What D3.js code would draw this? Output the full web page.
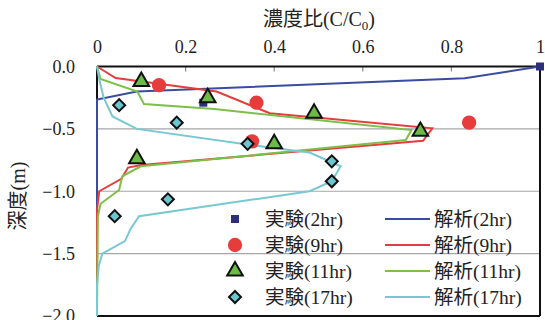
<!DOCTYPE html>
<html>
<head>
<meta charset="utf-8">
<script src="https://cdn.jsdelivr.net/npm/d3@7"></script>
<style>
  html, body { margin: 0; padding: 0; background: #fff; }
  svg text { font-family: "Liberation Serif", "Noto Sans CJK JP", serif; fill: #222; }
</style>
</head>
<body>
<svg id="chart" width="545" height="320"></svg>
<script>
// Axis ticks
const xTicks = [0, 0.2, 0.4, 0.6, 0.8, 1];
const xTickLabels = ["0", "0.2", "0.4", "0.6", "0.8", "1"];
const yTicks = [0, -0.5, -1.0, -1.5, -2.0];
const yTickLabels = ["0.0", "\u22120.5", "\u22121.0", "\u22121.5", "\u22122.0"];

// Measured concentration ratio (experiment)
const exp2hrDepth = [0, -0.29];
const exp2hrValue = [1.0, 0.24];
const exp9hrDepth = [-0.15, -0.29, -0.45, -0.60];
const exp9hrValue = [0.14, 0.36, 0.84, 0.35];
const exp11hrDepth = [-0.12, -0.25, -0.375, -0.52, -0.62, -0.74];
const exp11hrValue = [0.10, 0.25, 0.49, 0.73, 0.40, 0.09];
const exp17hrDepth = [-0.31, -0.45, -0.62, -0.76, -0.92, -1.065, -1.20];
const exp17hrValue = [0.05, 0.18, 0.34, 0.53, 0.53, 0.16, 0.04];

// Simulated profiles (analysis)
const ana2hrDepth = [0, -0.095, -0.2, -0.265, -2.0];
const ana2hrValue = [1.0, 0.83, 0.09, 0, 0];
const ana9hrDepth = [0, -0.092, -0.2, -0.375, -0.495, -0.595, -0.79, -0.81, -0.90, -1.0, -1.15, -2.0];
const ana9hrValue = [0, 0.042, 0.27, 0.39, 0.757, 0.736, 0.10, 0.07, 0.055, 0.005, 0, 0];
const ana11hrDepth = [0, -0.1, -0.2, -0.3, -0.34, -0.51, -0.59, -0.80, -0.88, -0.99, -1.10, -1.2, -2.0];
const ana11hrValue = [0, 0.008, 0.091, 0.106, 0.265, 0.71, 0.697, 0.099, 0.057, 0.05, 0.008, 0.002, 0];
const ana17hrDepth = [0, -0.1, -0.25, -0.4, -0.5, -0.65, -0.69, -0.8, -0.92, -1.0, -1.2, -1.3, -1.4, -1.5, -1.6, -1.75, -2.0];
const ana17hrValue = [0, 0.005, 0.015, 0.035, 0.09, 0.39, 0.48, 0.55, 0.53, 0.48, 0.095, 0.076, 0.063, 0.012, 0.004, 0, 0];

const expLabels = ["実験(2hr)", "実験(9hr)", "実験(11hr)", "実験(17hr)"];
const anaLabels = ["解析(2hr)", "解析(9hr)", "解析(11hr)", "解析(17hr)"];

const zip = (d, v) => d.map((dd, i) => ({ depth: dd, value: v[i] }));

const svg = d3.select("#chart");
const plotLeft = 97, plotRight = 540, plotTop = 66.5, plotBottom = 316;
const x = d3.scaleLinear().domain([0, 1]).range([plotLeft, plotRight]);
const y = d3.scaleLinear().domain([0, -2]).range([plotTop, plotBottom]);

// Horizontal gridlines
svg.append("g").selectAll("line")
  .data(yTicks.filter(t => t !== 0 && t !== -2))
  .join("line")
  .attr("x1", plotLeft).attr("x2", plotRight)
  .attr("y1", d => y(d)).attr("y2", d => y(d))
  .attr("stroke", "#a6a6a6").attr("stroke-width", 1.2);

// Top axis (concentration ratio)
const xAxis = d3.axisTop(x).tickValues(xTicks)
  .tickFormat((d, i) => xTickLabels[i]).tickSize(0).tickPadding(14);
const gx = svg.append("g").attr("transform", `translate(0,${plotTop})`).call(xAxis);
gx.select(".domain").remove();
gx.selectAll("text").attr("font-size", 18).attr("fill", "#222")
  .style("font-family", "'Liberation Serif', serif");
// inner tick marks
svg.append("g").selectAll("line")
  .data(xTicks.filter(t => t > 0 && t < 1))
  .join("line")
  .attr("x1", d => x(d)).attr("x2", d => x(d))
  .attr("y1", plotTop).attr("y2", plotTop + 5)
  .attr("stroke", "#888").attr("stroke-width", 1.2);

// Left axis (depth)
const yAxis = d3.axisLeft(y).tickValues(yTicks)
  .tickFormat((d, i) => yTickLabels[i]).tickSize(0).tickPadding(22);
const gy = svg.append("g").attr("transform", `translate(${plotLeft},0)`).call(yAxis);
gy.select(".domain").remove();
gy.selectAll("text").attr("font-size", 18).attr("fill", "#222")
  .style("font-family", "'Liberation Serif', serif");

// Frame
const frame = svg.append("g").attr("stroke", "#111").attr("stroke-width", 2);
frame.append("line").attr("x1", plotLeft).attr("x2", plotRight).attr("y1", plotTop).attr("y2", plotTop);
frame.append("line").attr("x1", plotRight).attr("x2", plotRight).attr("y1", plotTop).attr("y2", plotBottom);
frame.append("line").attr("x1", plotLeft).attr("x2", plotRight).attr("y1", plotBottom).attr("y2", plotBottom);
frame.append("line").attr("x1", plotLeft).attr("x2", plotLeft).attr("y1", plotTop).attr("y2", plotBottom);

// Axis titles
const title = svg.append("text").attr("x", 319).attr("y", 26)
  .attr("text-anchor", "middle").attr("font-size", 20);
title.append("tspan").text("濃度比(C/C");
title.append("tspan").attr("font-size", 13).attr("dy", 4).text("0");
title.append("tspan").attr("dy", -4).text(")");

svg.append("text")
  .attr("transform", "translate(25,196) rotate(-90)")
  .attr("text-anchor", "middle").attr("font-size", 20)
  .text("深度(m)");

// Analysis lines
const line = d3.line().x(d => x(d.value)).y(d => y(d.depth));
const lineSeries = [
  { data: zip(ana2hrDepth, ana2hrValue), color: "#3a4c9f" },
  { data: zip(ana9hrDepth, ana9hrValue), color: "#e63c3c" },
  { data: zip(ana11hrDepth, ana11hrValue), color: "#7cbf4a" },
  { data: zip(ana17hrDepth, ana17hrValue), color: "#78c8d2" }
];
svg.append("g").selectAll("path")
  .data(lineSeries)
  .join("path")
  .attr("d", d => line(d.data))
  .attr("fill", "none")
  .attr("stroke", d => d.color)
  .attr("stroke-width", 2);

// Marker shapes
const sym = {
  square: d3.symbol().type(d3.symbolSquare).size(64),
  circle: d3.symbol().type(d3.symbolCircle).size(160),
  triangle: d3.symbol().type(d3.symbolTriangle).size(105),
  diamond: d3.symbol().type(d3.symbolSquare).size(72)
};
const markerSeries = [
  { data: zip(exp2hrDepth, exp2hrValue), shape: "square", fill: "#2e2f7c", stroke: "none", sw: 0, rot: 0 },
  { data: zip(exp9hrDepth, exp9hrValue), shape: "circle", fill: "#e63c3c", stroke: "none", sw: 0, rot: 0 },
  { data: zip(exp11hrDepth, exp11hrValue), shape: "triangle", fill: "#6cbb46", stroke: "#111", sw: 2, rot: 0 },
  { data: zip(exp17hrDepth, exp17hrValue), shape: "diamond", fill: "#6cc6d0", stroke: "#111", sw: 2, rot: 45 }
];
markerSeries.forEach(s => {
  svg.append("g").selectAll("path")
    .data(s.data)
    .join("path")
    .attr("d", sym[s.shape]())
    .attr("transform", d => `translate(${x(d.value)},${y(d.depth)}) rotate(${s.rot})`)
    .attr("fill", s.fill)
    .attr("stroke", s.stroke)
    .attr("stroke-width", s.sw);
});

// Legend
const legendRows = [219, 245, 271, 297];
const lg = svg.append("g");
markerSeries.forEach((s, i) => {
  lg.append("path")
    .attr("d", sym[s.shape]())
    .attr("transform", `translate(235,${legendRows[i]}) rotate(${s.rot})`)
    .attr("fill", s.fill).attr("stroke", s.stroke).attr("stroke-width", s.sw);
  lg.append("text").attr("x", 265).attr("y", legendRows[i] + 7)
    .attr("font-size", 19.5).text(expLabels[i]);
  lg.append("line").attr("x1", 385).attr("x2", 430)
    .attr("y1", legendRows[i]).attr("y2", legendRows[i])
    .attr("stroke", lineSeries[i].color).attr("stroke-width", 2);
  lg.append("text").attr("x", 434).attr("y", legendRows[i] + 7)
    .attr("font-size", 19.5).text(anaLabels[i]);
});
</script>
</body>
</html>
